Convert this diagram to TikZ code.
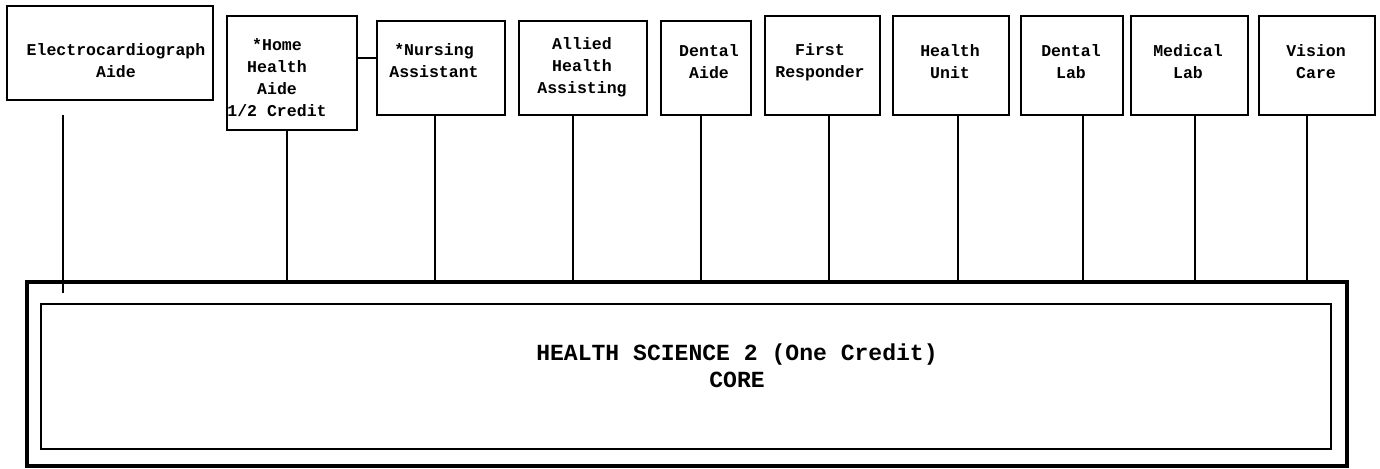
\documentclass[tikz,border=0pt]{standalone}
\usepackage{fontspec}
\newfontfamily\courier{Liberation Mono}
\usetikzlibrary{fit}

\tikzset{
  jobbox/.style={draw, line width=1.5pt, inner sep=0pt},
  corebox/.style={draw, line width=2.4pt, inner sep=0pt},
  innerbox/.style={draw, line width=1.1pt, inner sep=0pt},
  jobtext/.style={align=center, inner sep=0pt, font=\fontsize{12.4}{16.5}\selectfont\courier\bfseries},
  coretext/.style={align=center, inner sep=0pt, font=\fontsize{17.3}{20.3}\selectfont\courier\bfseries},
}

\begin{document}
\begin{tikzpicture}[x=0.75pt, y=-0.75pt, line width=1.1pt]
	\useasboundingbox (0,0) rectangle (1380,468);
	
	% Kern unten
	\node[corebox, fit={(27,282) (1347,466)}] (core) {};
	\node[innerbox, fit={(41,304) (1331,449)}] (inner) {};
	\node[coretext] (coretitle) at (737,366) {HEALTH SCIENCE 2 (One Credit)\\CORE};
	
	% Kaesten oben
	\node[jobbox, fit={(7,6) (213,100)}] (ecg) {};
	\node[jobtext] (ecgtext) at (116,61) {Electrocardiograph\\Aide};
	
	\node[jobbox, fit={(227,16) (357,130)}] (home) {};
	\node[jobtext] (hometext) at (277,78) {*Home\\Health\\Aide\\1/2 Credit};
	
	\node[jobbox, fit={(377,21) (505,115)}] (nurse) {};
	\node[jobtext] (nursetext) at (434,61) {*Nursing\\Assistant};
	
	\node[jobbox, fit={(519,21) (647,115)}] (allied) {};
	\node[jobtext] (alliedtext) at (582,67) {Allied\\Health\\Assisting};
	
	\node[jobbox, fit={(661,21) (751,115)}] (dentaide) {};
	\node[jobtext] (dentaidetext) at (709,62) {Dental\\Aide};
	
	\node[jobbox, fit={(765,16) (880,115)}] (first) {};
	\node[jobtext] (firsttext) at (820,62) {First\\Responder};
	
	\node[jobbox, fit={(893,16) (1009,115)}] (unit) {};
	\node[jobtext] (unittext) at (950,62) {Health\\Unit};
	
	\node[jobbox, fit={(1021,16) (1123,115)}] (dentlab) {};
	\node[jobtext] (dentlabtext) at (1071,62) {Dental\\Lab};
	
	\node[jobbox, fit={(1131,16) (1248,115)}] (medlab) {};
	\node[jobtext] (medlabtext) at (1188,62) {Medical\\Lab};
	
	\node[jobbox, fit={(1259,16) (1375,115)}] (vision) {};
	\node[jobtext] (visiontext) at (1316,62) {Vision\\Care};
	
	% Verbindungen
	\coordinate (ecgtop) at (63,115);
	\coordinate (ecgend) at (63,293);
	\draw (ecgtop) -- (ecgend);
	\draw (home.east |- 0,58) -- (nurse.west |- 0,58);
	
	\draw (287,0 |- home.south) -- (287,0 |- core.north);
	\draw (435,0 |- nurse.south) -- (435,0 |- core.north);
	\draw (573,0 |- allied.south) -- (573,0 |- core.north);
	\draw (701,0 |- dentaide.south) -- (701,0 |- core.north);
	\draw (829,0 |- first.south) -- (829,0 |- core.north);
	\draw (958,0 |- unit.south) -- (958,0 |- core.north);
	\draw (1083,0 |- dentlab.south) -- (1083,0 |- core.north);
	\draw (1195,0 |- medlab.south) -- (1195,0 |- core.north);
	\draw (1307,0 |- vision.south) -- (1307,0 |- core.north);
\end{tikzpicture}
\end{document}
